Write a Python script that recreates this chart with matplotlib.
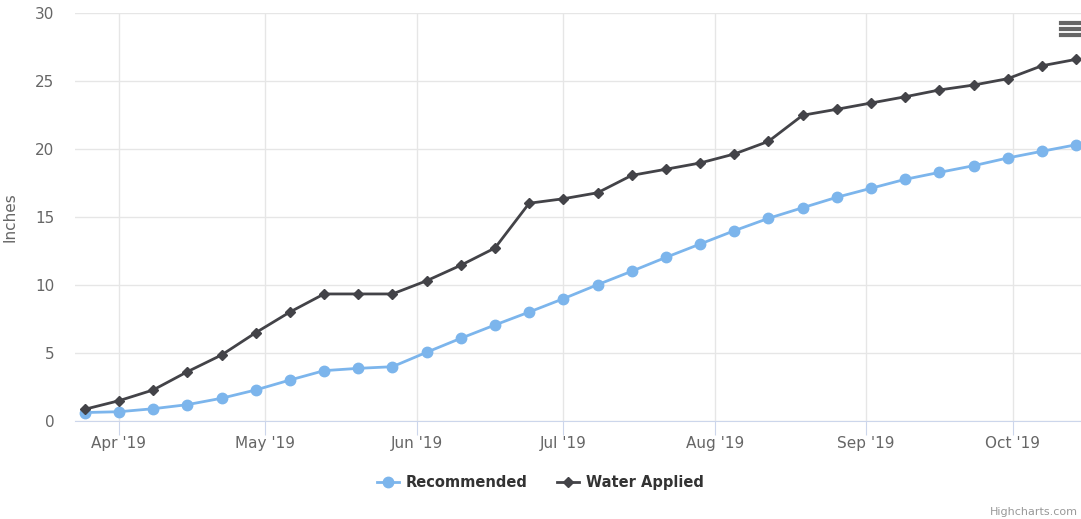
import numpy as np
import matplotlib.pyplot as plt
import matplotlib.dates as mdates
from matplotlib.lines import Line2D

# weekly readings, cumulative inches
dates = np.arange(np.datetime64('2019-03-25'), np.datetime64('2019-10-15'), np.timedelta64(7, 'D'))
recommended = [0.6, 0.66, 0.88, 1.18, 1.65, 2.26, 2.99, 3.68, 3.85, 3.97,
               5.03, 6.06, 7.04, 7.99, 8.97, 10.0, 10.99, 12.01, 12.99, 13.97,
               14.88, 15.66, 16.43, 17.09, 17.75, 18.26, 18.75, 19.32, 19.81, 20.29]
water_applied = [0.84, 1.47, 2.26, 3.6, 4.83, 6.47, 7.99, 9.32, 9.32, 9.32,
                 10.29, 11.43, 12.7, 15.99, 16.32, 16.76, 18.04, 18.49, 18.95, 19.61,
                 20.54, 22.46, 22.9, 23.36, 23.82, 24.32, 24.68, 25.15, 26.1, 26.57]
y_ticks = [0, 5, 10, 15, 20, 25, 30]

x = dates.astype('datetime64[D]').astype('O')

fig = plt.figure(figsize=(10.81, 5.19), dpi=100)
ax = fig.add_axes([0.0694, 0.1894, 0.9306, 0.7861])

ax.plot(x, recommended, color='#7cb5ec', lw=2, marker='o', ms=7.5,
        label='Recommended', zorder=3)
ax.plot(x, water_applied, color='#434348', lw=2, marker='D', ms=5,
        label='Water Applied', zorder=4)

ax.set_ylim(0, 30)
ax.set_yticks(y_ticks)
ax.set_xlim(np.datetime64('2019-03-23').astype('O'), np.datetime64('2019-10-15').astype('O'))
ax.xaxis.set_major_locator(mdates.MonthLocator())
ax.xaxis.set_major_formatter(mdates.DateFormatter("%b '%y"))

ax.grid(True, color='#e6e6e6', lw=1)
ax.set_axisbelow(True)
for s in ['top', 'right', 'left']:
    ax.spines[s].set_visible(False)
ax.spines['bottom'].set_color('#ccd6eb')
ax.tick_params(axis='y', length=0, pad=15, labelsize=11, labelcolor='#666666')
ax.tick_params(axis='x', length=10, color='#ccd6eb', pad=1, labelsize=11, labelcolor='#666666')
ax.set_ylabel('Inches', fontsize=11, color='#666666')
ax.yaxis.set_label_coords(-0.057, 0.5)

handles = [Line2D([], [], color='#7cb5ec', lw=2, marker='o', ms=7.5),
           Line2D([], [], color='#434348', lw=2, marker='D', ms=5)]
fig.legend(handles, ['Recommended', 'Water Applied'], loc='center',
           bbox_to_anchor=(0.5, 0.07), ncol=2, frameon=False, handlelength=1.5,
           columnspacing=2.0, handletextpad=0.5,
           prop={'size': 10.5, 'weight': 'bold'}, labelcolor='#333333')

# context menu icon
for yy in [0.956, 0.944, 0.932]:
    fig.add_artist(Line2D([0.9815, 1.0], [yy, yy], color='#666666', lw=3,
                          transform=fig.transFigure))

fig.text(0.997, 0.014, 'Highcharts.com', fontsize=8, color='#999999',
         ha='right', va='center')

fig.savefig('out.png', dpi=100)
